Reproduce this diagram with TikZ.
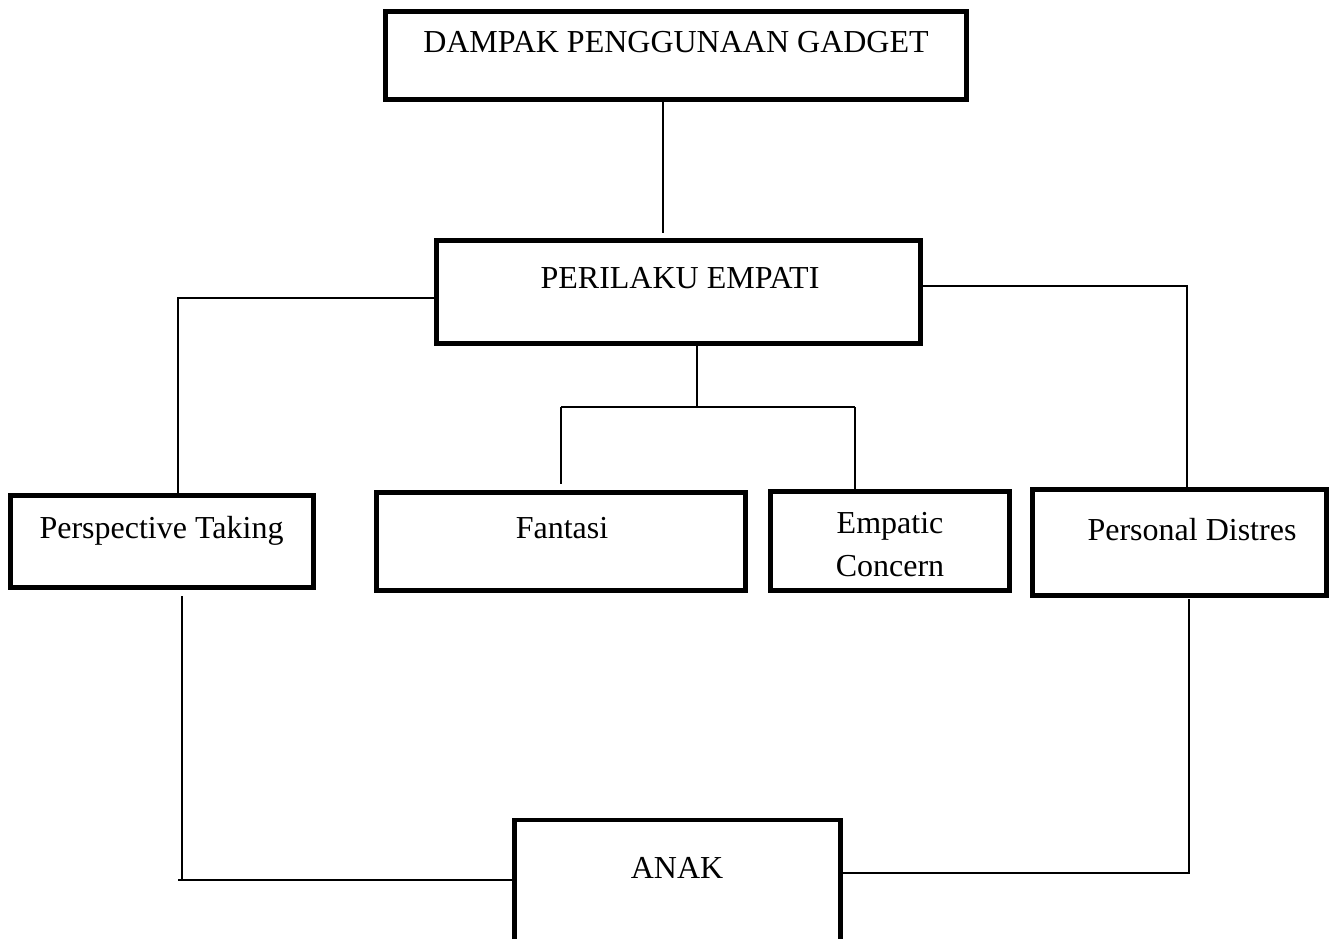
\documentclass[tikz,border=0pt]{standalone}
\usepackage{fontspec}
\setmainfont{Liberation Serif}
\begin{document}
\begin{tikzpicture}[x=0.75pt,y=-0.75pt,
  box/.style={draw,line width=3.5pt,inner sep=0pt,fill=white},
  lbl/.style={anchor=base,inner sep=0pt,font=\fontsize{24}{28}\selectfont},
  conn/.style={line width=1.1pt}]
\clip (0,0) rectangle (1333,938);
\fill[white] (0,0) rectangle (1333,938);
% boxes
\node[box,minimum width=436pt,minimum height=66.25pt] (top) at (676,55.5) {};
\node[box,minimum width=363.25pt,minimum height=77.5pt] (per) at (678.5,292) {};
\node[box,minimum width=227.5pt,minimum height=69.25pt] (pt) at (162,541.5) {};
\node[box,minimum width=277pt,minimum height=73.75pt] (fan) at (561,541.5) {};
\node[box,minimum width=179.5pt,minimum height=74.5pt] (emp) at (890,541) {};
\node[box,minimum width=220.75pt,minimum height=79.75pt] (pd) at (1179.5,542.5) {};
\node[box,minimum width=244.75pt,minimum height=105pt] (anak) at (677.5,890) {};
% texts
\node[lbl] (ttop) at (676,52.5) {DAMPAK PENGGUNAAN GADGET};
\node[lbl] (tper) at (680,288) {PERILAKU EMPATI};
\node[lbl] (tpt) at (161.5,538) {Perspective Taking};
\node[lbl] (tfan) at (562,538) {Fantasi};
\node[lbl] (temp1) at (890,533) {Empatic};
\node[lbl] (temp2) at (890,576) {Concern};
\node[lbl] (tpd) at (1192,540) {Personal Distres};
\node[lbl] (tanak) at (677,878) {ANAK};
% connectors
\coordinate (jl) at (178,298);
\coordinate (jr) at (1187,286);
\coordinate (jm) at (697,407);
\coordinate (jf) at (561,407);
\coordinate (je) at (855,407);
\coordinate (bl) at (182,880);
\coordinate (bl0) at (178,880);
\coordinate (br) at (1189,873);
\draw[conn,shorten >=3.5pt] (top.south -| 663,0) -- (per.north -| 663,0);
\draw[conn] (per.west |- jl) -- (jl) -- (pt.north -| jl);
\draw[conn] (per.east |- jr) -- (jr) -- (pd.north -| jr);
\draw[conn] (per.south -| jm) -- (jm);
\draw[conn] (jf) -- (je);
\draw[conn,shorten >=4.5pt] (jf) -- (fan.north -| jf);
\draw[conn] (je) -- (emp.north -| je);
\draw[conn,shorten <=4.5pt] (pt.south -| bl) -- (bl);
\draw[conn] (bl0) -- (anak.west |- bl0);
\draw[conn,shorten <=1pt] (pd.south -| br) -- (br) -- (anak.east |- br);
\end{tikzpicture}
\end{document}
